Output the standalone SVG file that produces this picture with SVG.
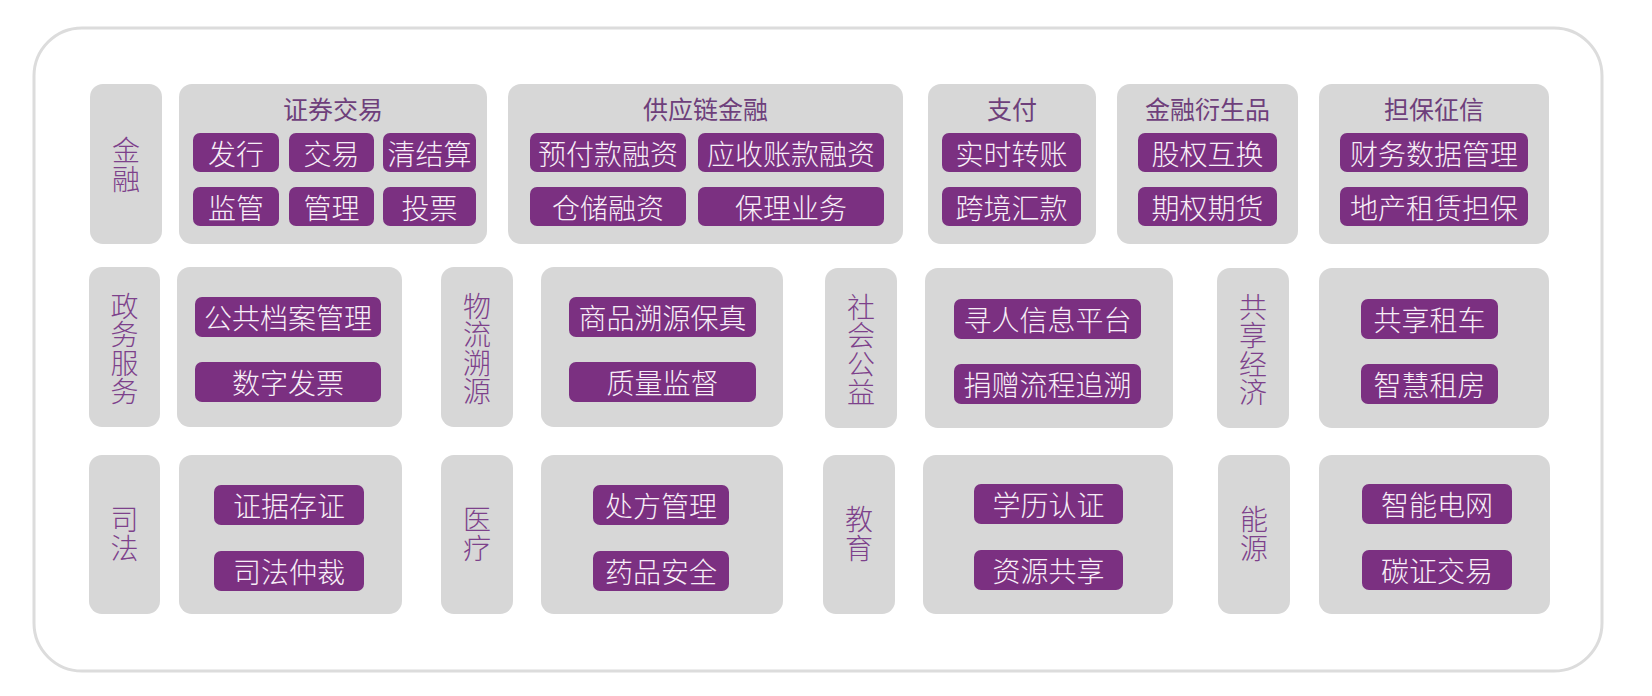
<svg xmlns="http://www.w3.org/2000/svg" width="1652" height="696" viewBox="0 0 1652 696">
<style>
.bg{fill:#ffffff}
.frame{fill:#ffffff;stroke:#dcdcdc;stroke-width:3}
.box{fill:#d7d7d7}
.pill{fill:#7b3081}
.t{font-family:"Noto Sans CJK SC","Noto Sans",sans-serif;text-anchor:middle;dominant-baseline:central}
.title{font-size:25px;fill:#6e3f7b;font-weight:400}
.ptxt{font-size:28px;fill:#f7eef7;font-weight:300}
.lab{font-family:"Noto Sans CJK SC","Noto Sans",sans-serif;text-anchor:middle;font-size:28px;fill:#7d418b;font-weight:300;writing-mode:vertical-rl;letter-spacing:0.5px}
</style>
<rect class="bg" x="0" y="0" width="1652" height="696"/>
<rect class="frame" x="34" y="28" width="1568" height="643" rx="48"/>
<g id="connectors"></g>

<!-- Row 1 -->
<g id="n-jinrong">
<rect class="box" x="90" y="84" width="72" height="160" rx="13"/>
<text class="lab" x="126" y="165">金融</text>
</g>
<g id="n-zhengquan">
<rect class="box" x="179" y="84" width="308" height="160" rx="13"/>
<text class="t title" x="333" y="108">证券交易</text>
<rect class="pill" x="193" y="133" width="86" height="39" rx="7"/><text class="t ptxt" x="236" y="152.5">发行</text>
<rect class="pill" x="289" y="133" width="85" height="39" rx="7"/><text class="t ptxt" x="331.5" y="152.5">交易</text>
<rect class="pill" x="383" y="133" width="93" height="39" rx="7"/><text class="t ptxt" x="429.5" y="152.5">清结算</text>
<rect class="pill" x="193" y="187" width="86" height="39" rx="7"/><text class="t ptxt" x="236" y="206.5">监管</text>
<rect class="pill" x="289" y="187" width="85" height="39" rx="7"/><text class="t ptxt" x="331.5" y="206.5">管理</text>
<rect class="pill" x="383" y="187" width="93" height="39" rx="7"/><text class="t ptxt" x="429.5" y="206.5">投票</text>
</g>
<g id="n-gongyinglian">
<rect class="box" x="508" y="84" width="395" height="160" rx="13"/>
<text class="t title" x="705.5" y="108">供应链金融</text>
<rect class="pill" x="530" y="133" width="156" height="39" rx="7"/><text class="t ptxt" x="608" y="152.5">预付款融资</text>
<rect class="pill" x="698" y="133" width="186" height="39" rx="7"/><text class="t ptxt" x="791" y="152.5">应收账款融资</text>
<rect class="pill" x="530" y="187" width="156" height="39" rx="7"/><text class="t ptxt" x="608" y="206.5">仓储融资</text>
<rect class="pill" x="698" y="187" width="186" height="39" rx="7"/><text class="t ptxt" x="791" y="206.5">保理业务</text>
</g>
<g id="n-zhifu">
<rect class="box" x="928" y="84" width="168" height="160" rx="13"/>
<text class="t title" x="1012" y="108">支付</text>
<rect class="pill" x="942" y="133" width="139" height="39" rx="7"/><text class="t ptxt" x="1011.5" y="152.5">实时转账</text>
<rect class="pill" x="942" y="187" width="139" height="39" rx="7"/><text class="t ptxt" x="1011.5" y="206.5">跨境汇款</text>
</g>
<g id="n-yanshengpin">
<rect class="box" x="1117" y="84" width="181" height="160" rx="13"/>
<text class="t title" x="1207.5" y="108">金融衍生品</text>
<rect class="pill" x="1138" y="133" width="139" height="39" rx="7"/><text class="t ptxt" x="1207.5" y="152.5">股权互换</text>
<rect class="pill" x="1138" y="187" width="139" height="39" rx="7"/><text class="t ptxt" x="1207.5" y="206.5">期权期货</text>
</g>
<g id="n-danbao">
<rect class="box" x="1319" y="84" width="230" height="160" rx="13"/>
<text class="t title" x="1434" y="108">担保征信</text>
<rect class="pill" x="1340" y="133" width="188" height="39" rx="7"/><text class="t ptxt" x="1434" y="152.5">财务数据管理</text>
<rect class="pill" x="1340" y="187" width="188" height="39" rx="7"/><text class="t ptxt" x="1434" y="206.5">地产租赁担保</text>
</g>

<!-- Row 2 -->
<g id="n-zhengwu">
<rect class="box" x="89" y="267" width="71" height="160" rx="13"/>
<text class="lab" x="124.5" y="349">政务服务</text>
</g>
<g id="n-zhengwu-c">
<rect class="box" x="177" y="267" width="225" height="160" rx="13"/>
<rect class="pill" x="195" y="297" width="186" height="40" rx="7"/><text class="t ptxt" x="288" y="317">公共档案管理</text>
<rect class="pill" x="195" y="362" width="186" height="40" rx="7"/><text class="t ptxt" x="288" y="382">数字发票</text>
</g>
<g id="n-wuliu">
<rect class="box" x="441" y="267" width="72" height="160" rx="13"/>
<text class="lab" x="477" y="349">物流溯源</text>
</g>
<g id="n-wuliu-c">
<rect class="box" x="541" y="267" width="242" height="160" rx="13"/>
<rect class="pill" x="569" y="297" width="187" height="40" rx="7"/><text class="t ptxt" x="662.5" y="317">商品溯源保真</text>
<rect class="pill" x="569" y="362" width="187" height="40" rx="7"/><text class="t ptxt" x="662.5" y="382">质量监督</text>
</g>
<g id="n-shehui">
<rect class="box" x="825" y="268" width="72" height="160" rx="13"/>
<text class="lab" x="861" y="350">社会公益</text>
</g>
<g id="n-shehui-c">
<rect class="box" x="925" y="268" width="248" height="160" rx="13"/>
<rect class="pill" x="954" y="299" width="187" height="40" rx="7"/><text class="t ptxt" x="1047.5" y="319">寻人信息平台</text>
<rect class="pill" x="954" y="364" width="187" height="40" rx="7"/><text class="t ptxt" x="1047.5" y="384">捐赠流程追溯</text>
</g>
<g id="n-gongxiang">
<rect class="box" x="1217" y="268" width="72" height="160" rx="13"/>
<text class="lab" x="1253" y="350">共享经济</text>
</g>
<g id="n-gongxiang-c">
<rect class="box" x="1319" y="268" width="230" height="160" rx="13"/>
<rect class="pill" x="1361" y="299" width="137" height="40" rx="7"/><text class="t ptxt" x="1429.5" y="319">共享租车</text>
<rect class="pill" x="1361" y="364" width="137" height="40" rx="7"/><text class="t ptxt" x="1429.5" y="384">智慧租房</text>
</g>

<!-- Row 3 -->
<g id="n-sifa">
<rect class="box" x="89" y="455" width="71" height="159" rx="13"/>
<text class="lab" x="124.5" y="534">司法</text>
</g>
<g id="n-sifa-c">
<rect class="box" x="179" y="455" width="223" height="159" rx="13"/>
<rect class="pill" x="214" y="485" width="150" height="40" rx="7"/><text class="t ptxt" x="289" y="505">证据存证</text>
<rect class="pill" x="214" y="551" width="150" height="40" rx="7"/><text class="t ptxt" x="289" y="571">司法仲裁</text>
</g>
<g id="n-yiliao">
<rect class="box" x="441" y="455" width="72" height="159" rx="13"/>
<text class="lab" x="477" y="534">医疗</text>
</g>
<g id="n-yiliao-c">
<rect class="box" x="541" y="455" width="242" height="159" rx="13"/>
<rect class="pill" x="593" y="485" width="136" height="40" rx="7"/><text class="t ptxt" x="661" y="505">处方管理</text>
<rect class="pill" x="593" y="551" width="136" height="40" rx="7"/><text class="t ptxt" x="661" y="571">药品安全</text>
</g>
<g id="n-jiaoyu">
<rect class="box" x="823" y="455" width="72" height="159" rx="13"/>
<text class="lab" x="859" y="534">教育</text>
</g>
<g id="n-jiaoyu-c">
<rect class="box" x="923" y="455" width="250" height="159" rx="13"/>
<rect class="pill" x="974" y="484" width="149" height="40" rx="7"/><text class="t ptxt" x="1048.5" y="504">学历认证</text>
<rect class="pill" x="974" y="550" width="149" height="40" rx="7"/><text class="t ptxt" x="1048.5" y="570">资源共享</text>
</g>
<g id="n-nengyuan">
<rect class="box" x="1218" y="455" width="72" height="159" rx="13"/>
<text class="lab" x="1254" y="534">能源</text>
</g>
<g id="n-nengyuan-c">
<rect class="box" x="1319" y="455" width="231" height="159" rx="13"/>
<rect class="pill" x="1362" y="484" width="150" height="40" rx="7"/><text class="t ptxt" x="1437" y="504">智能电网</text>
<rect class="pill" x="1362" y="550" width="150" height="40" rx="7"/><text class="t ptxt" x="1437" y="570">碳证交易</text>
</g>
</svg>
